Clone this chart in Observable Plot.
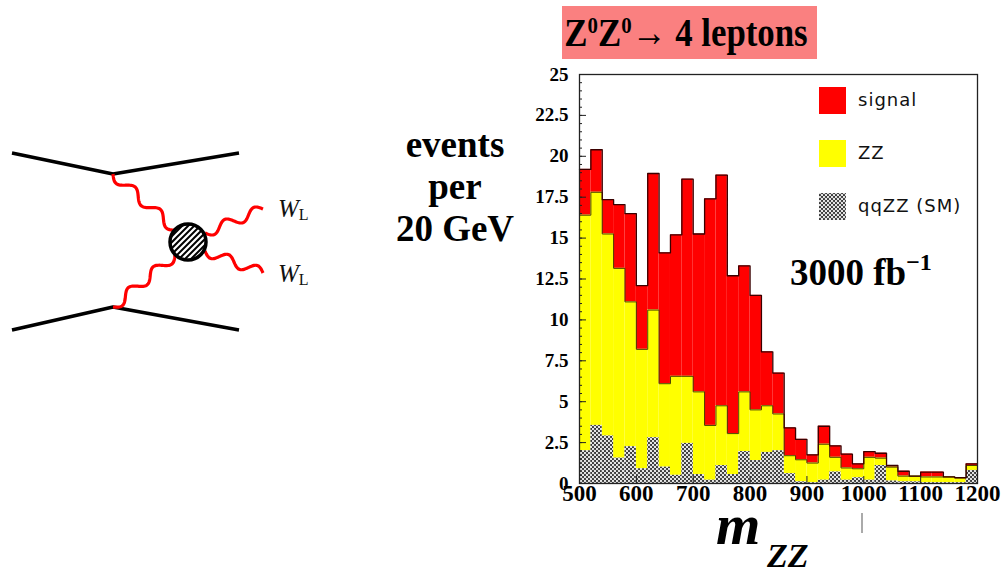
<!DOCTYPE html>
<html>
<head>
<meta charset="utf-8">
<script src="https://cdn.jsdelivr.net/npm/d3@7"></script>
<script src="https://cdn.jsdelivr.net/npm/@observablehq/plot@0.6"></script>
<style>
  body { margin: 0; background: #fff; width: 1003px; height: 575px; overflow: hidden; position: relative;
         font-family: "Liberation Serif", "Times New Roman", serif; }
  .abs { position: absolute; }
  .serif { font-family: "Liberation Serif", "Times New Roman", serif; }
  .bold { font-weight: bold; }
  #title { left: 562px; top: 6px; width: 255px; height: 53px; background: #fa8080; color: #000;
           font-size: 40px; line-height: 53px; white-space: nowrap; }
  #title .inner { position: absolute; left: 124px; top: 0; transform: translateX(-50%) scaleX(0.87); transform-origin: center; }
  #title sup { font-size: 24px; vertical-align: 0; position: relative; top: -13px; }
  #ylab { left: 375px; top: 124px; width: 160px; text-align: center; font-size: 37px; line-height: 42px; }
  #lumi { left: 790px; top: 252px; font-size: 37px; line-height: 41px; white-space: nowrap; }
  #lumi span { font-size: 24px; position: relative; top: -15px; }
  #xm { left: 716px; top: 496px; font-size: 57px; line-height: 57px; font-weight: bold; font-style: italic; }
  #xzz { left: 767px; top: 539px; font-size: 34px; line-height: 34px; font-weight: bold; font-style: italic; }
  #legend { left: 815px; top: 80px; }
  #legend text { font-family: "DejaVu Sans", sans-serif; font-size: 18px; letter-spacing: 1px; fill: #111; }
  #chart svg text { font-family: "Liberation Serif", "Times New Roman", serif !important; font-weight: bold; }
</style>
</head>
<body>
<div id="diagram" class="abs" style="left:0;top:0"></div>
<div id="chart" class="abs" style="left:500px;top:0"></div>
<div id="title" class="abs serif bold"><span class="inner">Z<sup>0</sup>Z<sup>0</sup>&rarr; 4 leptons</span></div>
<div id="ylab" class="abs serif bold">events<br>per<br>20 GeV</div>
<div id="lumi" class="abs serif bold">3000 fb<span>&minus;1</span></div>
<div id="xm" class="abs serif">m</div>
<div id="xzz" class="abs serif">ZZ</div>
<div id="legend" class="abs"></div>
<div class="abs" style="left:861px;top:513px;width:1.5px;height:20px;background:#aaa"></div>

<script>
// m_ZZ bins (lower edges, GeV), 20 GeV wide
const binLow = [500, 520, 540, 560, 580, 600, 620, 640, 660, 680, 700, 720, 740, 760, 780,
                800, 820, 840, 860, 880, 900, 920, 940, 960, 980, 1000, 1020, 1040, 1060, 1080,
                1100, 1120, 1140, 1160, 1180];
const binWidth = 20;

// events per bin for each contribution (stacked: qqZZ, then ZZ, then signal)
const qqzz   = [2.0, 3.55, 2.9, 1.55, 2.25, 0.9, 2.8, 1.0, 0.5, 2.45, 0.55, 0.2, 1.1, 0.55, 1.95,
                1.4, 1.9, 2.0, 0.6, 0.1, 0.05, 0.2, 0.7, 0.2, 0.35, 0.2, 1.1, 0.15, 0.1, 0.1,
                0.05, 0.05, 0.05, 0.05, 0.8];
const zz     = [14.4, 14.25, 12.35, 11.6, 8.85, 7.3, 7.8, 5.1, 6.05, 4.1, 5.05, 3.35, 3.65, 2.5, 3.65,
                3.1, 2.85, 2.25, 1.1, 1.35, 1.2, 2.2, 0.9, 0.75, 0.55, 1.4, 0.45, 0.85, 0.35, 0.35,
                0.35, 0.35, 0.35, 0.3, 0.3];
const signal = [2.8, 2.6, 2.1, 3.9, 5.4, 3.9, 8.35, 8.0, 8.65, 12.05, 9.65, 13.85, 14.1, 9.65, 7.7,
                7.0, 3.3, 2.5, 1.7, 1.25, 0.5, 1.1, 0.7, 0.85, 0.3, 0.35, 0.3, 0.1, 0.3, 0.0,
                0.3, 0.3, 0.0, 0.0, 0.1];

const yTicks = [0, 2.5, 5, 7.5, 10, 12.5, 15, 17.5, 20, 22.5, 25];
const xTicks = [500, 600, 700, 800, 900, 1000, 1100, 1200];

// stacked layers: each bin gets a bottom and top per contribution
const layers = binLow.map((m, i) => {
  const a = qqzz[i], b = a + zz[i], c = b + signal[i];
  return {x1: m, x2: m + binWidth, q0: 0, q1: a, z0: a, z1: b, s0: b, s1: c};
});
// step outlines along the top of a stacked level
const outline = key => layers.flatMap(d => [{x: d.x1, y: d[key]}, {x: d.x2, y: d[key]}]);

const plot = Plot.plot({
  width: 503,
  height: 575,
  marginLeft: 79,
  marginRight: 26,
  marginTop: 74,
  marginBottom: 92,
  style: {fontFamily: "Liberation Serif, serif", fontWeight: "bold", background: "transparent", color: "#000"},
  x: {domain: [500, 1200], label: null},
  y: {domain: [0, 25], label: null},
  marks: [
    Plot.rectY(layers, {x1: "x1", x2: "x2", y1: "s0", y2: "s1", fill: "#ff0000"}),
    Plot.rectY(layers, {x1: "x1", x2: "x2", y1: "z0", y2: "z1", fill: "#ffff00"}),
    Plot.rectY(layers, {x1: "x1", x2: "x2", y1: "q0", y2: "q1", fill: "url(#qqdots)"}),
    Plot.line(outline("z1"), {x: "x", y: "y", stroke: "#4a4000", strokeWidth: 1}),
    Plot.line(outline("s1"), {x: "x", y: "y", stroke: "#3a0000", strokeWidth: 1.3}),
    Plot.frame({stroke: "#222", strokeWidth: 1.3}),
    Plot.axisY({ticks: d3.range(0, 25.01, 0.5), tickSize: -3, text: null, stroke: "#222"}),
    Plot.axisY({ticks: yTicks, tickSize: -7, text: null, stroke: "#222"}),
    Plot.axisY({ticks: yTicks, tickSize: 0, tickPadding: 11, tickFormat: d => String(d), fontSize: 19}),
    Plot.axisX({ticks: xTicks, tickSize: -7, text: null, stroke: "#222"}),
    Plot.axisX({ticks: xTicks, tickSize: 0, tickPadding: 1, tickFormat: d => String(d), fontSize: 23})
  ]
});

// dithered fill used for the qqZZ contribution
function addDots(svg, id) {
  const pat = d3.select(svg).insert("defs", ":first-child").append("pattern")
    .attr("id", id).attr("patternUnits", "userSpaceOnUse").attr("width", 4).attr("height", 4);
  pat.append("rect").attr("width", 4).attr("height", 4).attr("fill", "#3a3a3a");
  pat.append("circle").attr("cx", 1).attr("cy", 1).attr("r", 1.15).attr("fill", "#ececec");
  pat.append("circle").attr("cx", 3).attr("cy", 3).attr("r", 1.15).attr("fill", "#ececec");
}
addDots(plot, "qqdots");
document.getElementById("chart").append(plot);

// legend
const leg = d3.select("#legend").append("svg").attr("width", 180).attr("height", 150);
addDots(leg.node(), "qqdotsLeg");
const legItems = [
  {label: "signal", fill: "#ff0000", y: 7},
  {label: "ZZ", fill: "#ffff00", y: 60},
  {label: "qqZZ (SM)", fill: "url(#qqdotsLeg)", y: 113}
];
leg.selectAll("rect.sw").data(legItems).join("rect").attr("class", "sw")
  .attr("x", 4).attr("y", d => d.y).attr("width", 27).attr("height", 27).attr("fill", d => d.fill);
leg.selectAll("text").data(legItems).join("text")
  .attr("x", 43).attr("y", d => d.y + 19).text(d => d.label);

// diagram: two fermion lines exchanging gauge bosons that scatter through a blob
const dg = d3.select("#diagram").append("svg").attr("width", 330).attr("height", 350);
function wavy(x0, y0, x1, y1, cycles, amp) {
  const dx = x1 - x0, dy = y1 - y0, len = Math.hypot(dx, dy);
  const nx = -dy / len, ny = dx / len;
  const pts = d3.range(0, 1.0001, 0.01).map(t => {
    const o = amp * Math.sin(2 * Math.PI * cycles * t);
    return [x0 + dx * t + nx * o, y0 + dy * t + ny * o];
  });
  return d3.line()(pts);
}
const fermion = [[[12, 153], [113, 174], [239, 153]], [[12, 330], [113, 307], [239, 330]]];
dg.selectAll("path.f").data(fermion).join("path").attr("class", "f")
  .attr("d", d => d3.line()(d)).attr("fill", "none").attr("stroke", "#000")
  .attr("stroke-width", 3.5).attr("stroke-linejoin", "round");
const bosons = [[113, 174, 176, 230, 2.5], [113, 307, 175, 255, 2.5], [205, 233, 263, 209, 2], [205, 251, 263, 273, 2]];
dg.selectAll("path.b").data(bosons).join("path").attr("class", "b")
  .attr("d", d => wavy(d[0], d[1], d[2], d[3], d[4], 5)).attr("fill", "none")
  .attr("stroke", "#ff0000").attr("stroke-width", 3.2);
dg.append("clipPath").attr("id", "blobclip").append("circle").attr("cx", 188).attr("cy", 242).attr("r", 18);
dg.append("circle").attr("cx", 188).attr("cy", 242).attr("r", 18).attr("fill", "#fff");
dg.append("g").attr("clip-path", "url(#blobclip)").selectAll("line").data(d3.range(-40, 41, 6)).join("line")
  .attr("x1", d => 188 + d - 30).attr("y1", 272).attr("x2", d => 188 + d + 30).attr("y2", 212)
  .attr("stroke", "#000").attr("stroke-width", 2);
dg.append("circle").attr("cx", 188).attr("cy", 242).attr("r", 18).attr("fill", "none")
  .attr("stroke", "#000").attr("stroke-width", 3.5);
[217, 282].forEach(y => {
  const t = dg.append("text").attr("x", 278).attr("y", y).attr("fill", "#111")
    .style("font-family", "'Liberation Serif', serif");
  t.append("tspan").style("font-style", "italic").style("font-size", "25px").text("W");
  t.append("tspan").style("font-size", "16px").attr("dy", 3).text("L");
});
</script>
</body>
</html>
